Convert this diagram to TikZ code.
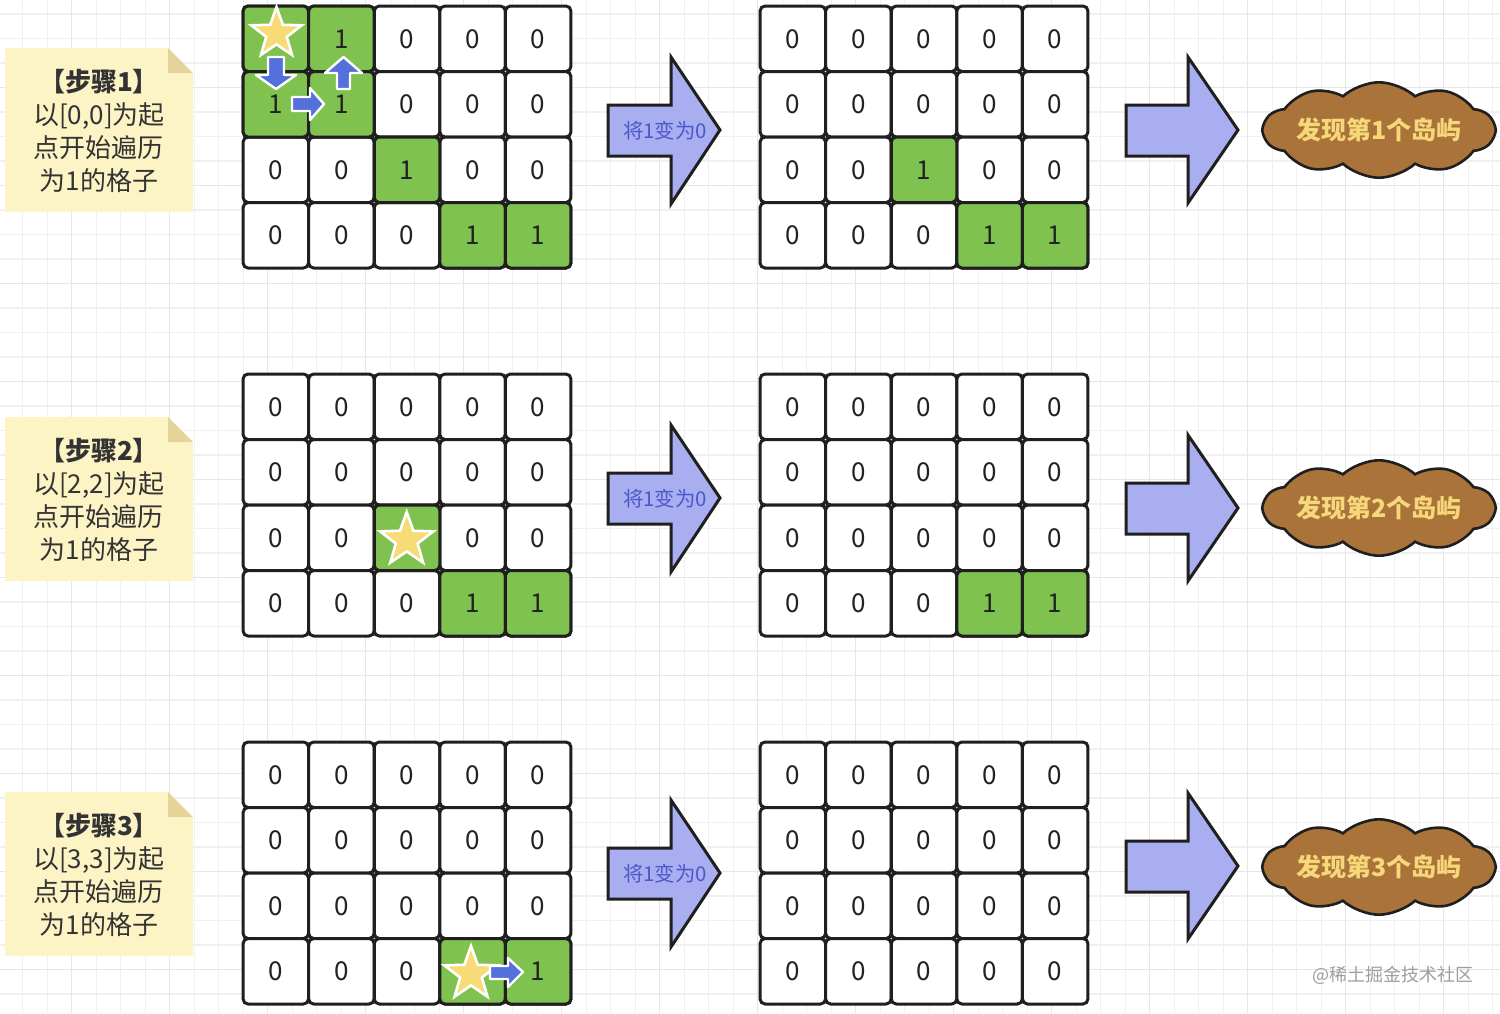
\documentclass[tikz,border=0pt]{standalone}
\usepackage{fontspec}
\setmainfont{Noto Sans CJK SC}
\usetikzlibrary{shapes.geometric,shapes.symbols}
\definecolor{cellline}{HTML}{1F1F1F}
\definecolor{digit}{HTML}{222222}
\definecolor{cellgreen}{HTML}{80C24F}
\definecolor{staryellow}{HTML}{F7DB76}
\definecolor{arrowblue}{HTML}{5470DA}
\definecolor{lav}{HTML}{A9AEF0}
\definecolor{lavtext}{HTML}{4A58C8}
\definecolor{notefill}{HTML}{FDF4C6}
\definecolor{notefold}{HTML}{E4D499}
\definecolor{notetext}{HTML}{333333}
\definecolor{cloudfill}{HTML}{A9733A}
\definecolor{cloudtext}{HTML}{F6D87B}
\definecolor{gridminor}{HTML}{F0F0F0}
\definecolor{gridmajor}{HTML}{E6E6E6}
\begin{document}
\begin{tikzpicture}[x=0.5pt,y=-0.5pt,
  cellbox/.style={draw=cellline, line width=1.5pt, rounded corners=2.5pt,
    minimum size=32.75pt, inner sep=0pt, fill=white, text=digit,
    font=\fontsize{13}{14}\selectfont},
  greencell/.style={cellbox, fill=cellgreen},
  starmark/.style={star, star points=5, star point ratio=2.45, inner sep=0pt,
    fill=staryellow, draw=white, line width=1.3pt, minimum size=28pt},
  bluearrow/.style={fill=arrowblue, draw=white, line width=1.2pt, line join=round},
  bigarrow/.style={fill=lav, draw=cellline, line width=1.5pt, line join=miter},
  arrowtext/.style={text=lavtext, font=\fontsize{10.2}{11}\selectfont, inner sep=0pt},
  notebox/.style={fill=notefill},
  notefoldstyle/.style={fill=notefold},
  notetxt/.style={text=notetext, align=center, inner sep=0pt,
    font=\fontsize{13}{16.5}\selectfont},
  cloudbox/.style={cloud, cloud puffs=10, cloud puff arc=85, aspect=3.3,
    draw=cellline, line width=1.3pt, fill=cloudfill, text=cloudtext,
    minimum width=112pt, minimum height=36pt, inner sep=0pt,
    font=\bfseries\fontsize{12.5}{14}\selectfont},
  gridline/.style={draw=gridminor, line width=0.7pt},
  gridline2/.style={draw=gridmajor, line width=0.7pt}
]
\useasboundingbox[fill=white] (0,0) rectangle (1500,1013);
% background grid
\foreach \k in {0,...,60}{
  \draw[gridline] ({22.7+24.5*\k},0) -- ({22.7+24.5*\k},1013);
}
\foreach \k in {0,...,41}{
  \draw[gridline] (0,{14+24.5*\k}) -- (1500,{14+24.5*\k});
}
\foreach \k in {2,6,...,58}{
  \draw[gridline2] ({22.7+24.5*\k},0) -- ({22.7+24.5*\k},1013);
}
\foreach \k in {3,7,...,39}{
  \draw[gridline2] (0,{14+24.5*\k}) -- (1500,{14+24.5*\k});
}
% notes
\foreach \b/\y in {1/130,2/499,3/874}{
  \path[notebox] (5,{\y-82}) -- (168,{\y-82}) -- (193,{\y-57}) -- (193,{\y+82}) -- (5,{\y+82}) -- cycle;
  \path[notefoldstyle] (168,{\y-82}) -- (193,{\y-57}) -- (168,{\y-57}) -- cycle;
  \node[notetxt] (note\b) at (99,{\y+1}) {{\bfseries 【步骤\b】}\\以[\ifcase\b\or 0,0\or 2,2\or 3,3\fi]为起\\点开始遍历\\为1的格子};
}
% grids of cells
\foreach \b/\yt in {1/6,2/374,3/742}{
  \foreach \g/\xl in {L/243,R/760}{
    \foreach \r in {0,...,3}{
      \foreach \c in {0,...,4}{
        \node[cellbox] (c\b\g\r\c) at ({\xl+32.8+65.6*\c},{\yt+32.75+65.5*\r}) {0};
      }
    }
  }
}
% green cells, block 1
\node[greencell] (g1L00) at (c1L00) {};
\node[greencell] (g1L01) at (c1L01) {1};
\node[greencell] (g1L10) at (c1L10) {1};
\node[greencell] (g1L11) at (c1L11) {1};
\node[greencell] (g1L22) at (c1L22) {1};
\node[greencell] (g1L33) at (c1L33) {1};
\node[greencell] (g1L34) at (c1L34) {1};
\node[greencell] (g1R22) at (c1R22) {1};
\node[greencell] (g1R33) at (c1R33) {1};
\node[greencell] (g1R34) at (c1R34) {1};
% block 2
\node[greencell] (g2L22) at (c2L22) {};
\node[greencell] (g2L33) at (c2L33) {1};
\node[greencell] (g2L34) at (c2L34) {1};
\node[greencell] (g2R33) at (c2R33) {1};
\node[greencell] (g2R34) at (c2R34) {1};
% block 3
\node[greencell] (g3L33) at (c3L33) {};
\node[greencell] (g3L34) at (c3L34) {1};
% stars
\node[starmark, minimum size=26.5pt] (s1) at (276.5,33.5) {};
\node[starmark] (s2) at (406.7,540) {};
\node[starmark] (s3) at (471,974) {};
% blue arrows
\path[bluearrow] (268,57) -- (284,57) -- (284,75) -- (296,75) -- (276,89) -- (256,75) -- (268,75) -- cycle;
\path[bluearrow] (337,89) -- (350,89) -- (350,73) -- (362,73) -- (343.5,57) -- (325,73) -- (337,73) -- cycle;
\path[bluearrow] (292,97) -- (310,97) -- (310,88) -- (324,104) -- (310,120) -- (310,111) -- (292,111) -- cycle;
\path[bluearrow] (490,966) -- (508,966) -- (508,958) -- (523,972) -- (508,987) -- (508,979) -- (490,979) -- cycle;
% lavender arrows with text
\foreach \b/\y in {1/130,2/498,3/873}{
  \path[bigarrow] (608,{\y-25}) -- (671,{\y-25}) -- (671,{\y-73}) -- (720,\y) -- (671,{\y+74}) -- (671,{\y+26}) -- (608,{\y+26}) -- cycle;
  \node[arrowtext] (t\b) at (665,{\y+1}) {将1变为0};
}
% right arrows
\foreach \b/\y in {1/130,2/508,3/866}{
  \path[bigarrow] (1126,{\y-25}) -- (1188,{\y-25}) -- (1188,{\y-73}) -- (1238,\y) -- (1188,{\y+73}) -- (1188,{\y+26}) -- (1126,{\y+26}) -- cycle;
}
% clouds
\foreach \b/\y in {1/130,2/508,3/867}{
  \node[cloudbox] (cl\b) at (1379,\y) {发现第\b 个岛屿};
}
% watermark
\node[text=black!38, font=\fontsize{9}{10}\selectfont, inner sep=0pt] (wm) at (1393,975) {@稀土掘金技术社区};
\end{tikzpicture}
\end{document}
